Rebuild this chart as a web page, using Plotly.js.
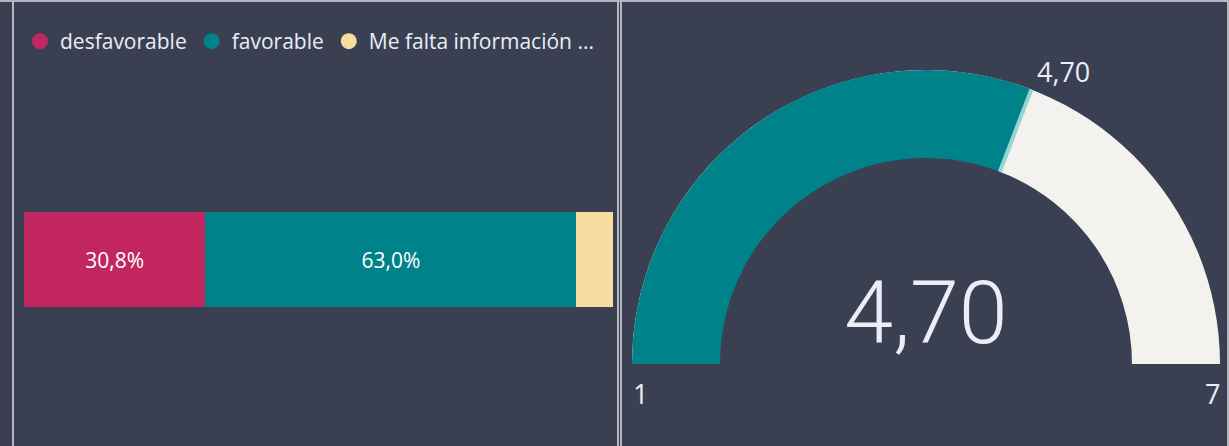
<!DOCTYPE html>
<html><head><meta charset="utf-8">
<script src="https://cdn.plot.ly/plotly-3.0.1.min.js"></script>
<style>html,body{margin:0;padding:0;background:#3a4051;overflow:hidden}#chart{width:1229px;height:446px}</style>
</head><body><div id="chart"></div>
<script>
// ---- data ----
const categories = ['desfavorable', 'favorable', 'Me falta información ...'];
const shares = [30.8, 63.0, 6.2];
const showLabel = [true, true, false];
const gaugeMin = 1;
const gaugeMax = 7;
const gaugeValue = 4.70;
const gaugeTarget = 4.70;

// ---- styles ----
const colors = ['#c1275e', '#00828a', '#f6dca0'];
const gaugeRest = '#f3f2ef';
const W = 1229, H = 446;
const px = v => v / W;
const py = v => 1 - v / H;
const txt = '#e9eef7';
const fmt = v => v.toFixed(2).replace('.', ',');

const traces = [];
categories.forEach((c, i) => {
  traces.push({
    type: 'bar', orientation: 'h', x: [shares[i]], y: ['r'], name: c,
    marker: {color: colors[i], line: {width: 0}},
    texttemplate: showLabel[i] ? '%{x:.1f}%' : '',
    textposition: 'inside', insidetextanchor: 'middle',
    textfont: {color: '#ffffff', size: 21, family: 'Open Sans'},
    showlegend: false, hoverinfo: 'skip'
  });
});
categories.forEach((c, i) => {
  traces.push({
    type: 'scatter', mode: 'markers', x: [null], y: [null], name: c,
    marker: {color: colors[i], size: 16, symbol: 'circle'},
    showlegend: true, hoverinfo: 'skip'
  });
});
// gauge: Plotly's inner radius is fixed at 0.75 of the outer one, so a second,
// smaller copy of the same gauge widens the band inwards to match the reference.
const threshold = {value: gaugeTarget, thickness: 1, line: {color: '#93d7d0', width: 4}};
const cx = 926, cy = 364, rOuter = 294, rInner = 206, rMid = rInner / 0.75;
traces.push({
  type: 'indicator', mode: 'gauge+number', value: gaugeValue,
  domain: {x: [px(cx - rOuter), px(cx + rOuter)], y: [py(cy), py(cy - rOuter)]},
  number: {valueformat: '.2f', font: {size: 88, color: txt, family: 'Roboto', weight: 300}},
  gauge: {
    shape: 'angular',
    axis: {range: [gaugeMin, gaugeMax], visible: false},
    bar: {color: colors[1], thickness: 1, line: {width: 0}},
    bgcolor: gaugeRest, borderwidth: 0, threshold: threshold
  }
});
traces.push({
  type: 'indicator', mode: 'gauge', value: gaugeValue,
  domain: {x: [px(cx - rMid), px(cx + rMid)], y: [py(cy), py(cy - rMid)]},
  gauge: {
    shape: 'angular',
    axis: {range: [gaugeMin, gaugeMax], visible: false},
    bar: {color: colors[1], thickness: 1, line: {width: 0}},
    bgcolor: 'rgba(0,0,0,0)', borderwidth: 0,
    steps: [{range: [gaugeValue, gaugeMax], color: gaugeRest, thickness: 1, line: {width: 0}}],
    threshold: threshold
  }
});

const border = '#b4b7be';
const lbl = {size: 27, color: txt, family: 'Open Sans'};
const layout = {
  width: W, height: H,
  paper_bgcolor: '#3a4051', plot_bgcolor: 'rgba(0,0,0,0)',
  margin: {l: 0, r: 0, t: 0, b: 0},
  separators: ',.',
  barmode: 'stack', bargap: 0,
  font: {family: 'Open Sans', color: txt},
  xaxis: {domain: [px(24), px(613)], range: [0, 100], visible: false, fixedrange: true},
  yaxis: {domain: [py(307), py(212)], range: [-0.5, 0.5], visible: false, fixedrange: true},
  showlegend: true,
  legend: {orientation: 'h', x: px(20), y: py(21), xanchor: 'left', yanchor: 'top',
    font: {size: 21, color: txt, family: 'Open Sans'}, bgcolor: 'rgba(0,0,0,0)',
    itemclick: false, traceorder: 'normal'},
  shapes: [
    {type: 'line', xref: 'paper', yref: 'paper', x0: 0, x1: 1, y0: py(1), y1: py(1), line: {color: border, width: 2}},
    {type: 'line', xref: 'paper', yref: 'paper', x0: px(13), x1: px(13), y0: 0, y1: py(1), line: {color: border, width: 2}},
    {type: 'line', xref: 'paper', yref: 'paper', x0: px(618), x1: px(618), y0: 0, y1: py(1), line: {color: border, width: 2}},
    {type: 'line', xref: 'paper', yref: 'paper', x0: px(621), x1: px(621), y0: 0, y1: py(1), line: {color: border, width: 2}},
    {type: 'line', xref: 'paper', yref: 'paper', x0: px(1228), x1: px(1228), y0: 0, y1: py(1), line: {color: border, width: 2}}
  ],
  annotations: [
    {text: String(gaugeMin), xref: 'paper', yref: 'paper', x: px(640), y: py(393), xanchor: 'center', yanchor: 'middle', showarrow: false, font: lbl},
    {text: String(gaugeMax), xref: 'paper', yref: 'paper', x: px(1212), y: py(393), xanchor: 'center', yanchor: 'middle', showarrow: false, font: lbl},
    {text: fmt(gaugeTarget), xref: 'paper', yref: 'paper', x: px(1063), y: py(71), xanchor: 'center', yanchor: 'middle', showarrow: false, font: lbl}
  ]
};
Plotly.newPlot('chart', traces, layout, {displayModeBar: false, staticPlot: true});
</script></body></html>
